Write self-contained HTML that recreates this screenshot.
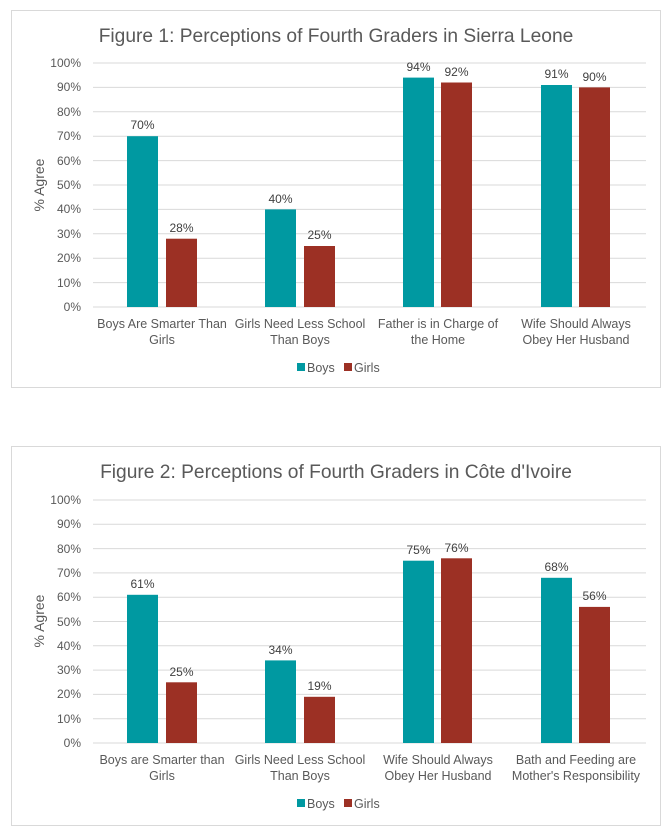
<!DOCTYPE html><html><head><style>body{margin:0;background:#fff}svg{display:block;font-family:"Liberation Sans",sans-serif}</style></head><body>
<svg width="672" height="836" xmlns="http://www.w3.org/2000/svg">
<g id="c1">
<rect x="11.5" y="10.5" width="649" height="377" fill="#fff" stroke="#d9d9d9"/>
<text x="336" y="42" font-size="19.2" fill="#595959" text-anchor="middle">Figure 1: Perceptions of Fourth Graders in Sierra Leone</text>
<g stroke="#d9d9d9" stroke-width="1">
<line x1="93" x2="646" y1="63" y2="63"/><line x1="93" x2="646" y1="87.4" y2="87.4"/><line x1="93" x2="646" y1="111.8" y2="111.8"/><line x1="93" x2="646" y1="136.2" y2="136.2"/><line x1="93" x2="646" y1="160.6" y2="160.6"/><line x1="93" x2="646" y1="185" y2="185"/><line x1="93" x2="646" y1="209.4" y2="209.4"/><line x1="93" x2="646" y1="233.8" y2="233.8"/><line x1="93" x2="646" y1="258.2" y2="258.2"/><line x1="93" x2="646" y1="282.6" y2="282.6"/><line x1="93" x2="646" y1="307" y2="307"/></g>
<g font-size="12" fill="#595959" text-anchor="end">
<text x="81" y="67">100%</text><text x="81" y="91">90%</text><text x="81" y="116">80%</text><text x="81" y="140">70%</text><text x="81" y="165">60%</text><text x="81" y="189">50%</text><text x="81" y="213">40%</text><text x="81" y="238">30%</text><text x="81" y="262">20%</text><text x="81" y="287">10%</text><text x="81" y="311">0%</text></g>
<text transform="translate(44,185) rotate(-90)" font-size="14" fill="#595959" text-anchor="middle">%  Agree</text>
<g fill="#0099a1"><rect x="127" y="136.2" width="31" height="170.8"/><rect x="265" y="209.4" width="31" height="97.6"/><rect x="403" y="77.6" width="31" height="229.4"/><rect x="541" y="85" width="31" height="222"/></g>
<g fill="#9c3024"><rect x="166" y="238.7" width="31" height="68.3"/><rect x="304" y="246" width="31" height="61"/><rect x="441" y="82.5" width="31" height="224.5"/><rect x="579" y="87.4" width="31" height="219.6"/></g>
<g font-size="12" fill="#404040" text-anchor="middle">
<text x="142.5" y="129">70%</text><text x="181.5" y="232">28%</text><text x="280.5" y="203">40%</text><text x="319.5" y="239">25%</text><text x="418.5" y="71">94%</text><text x="456.5" y="76">92%</text><text x="556.5" y="78">91%</text><text x="594.5" y="81">90%</text></g>
<g font-size="12.5" fill="#595959" text-anchor="middle">
<text x="162" y="328">Boys Are Smarter Than</text><text x="162" y="344">Girls</text>
<text x="300" y="328">Girls Need Less School</text><text x="300" y="344">Than Boys</text>
<text x="438" y="328">Father is in Charge of</text><text x="438" y="344">the Home</text>
<text x="576" y="328">Wife Should Always</text><text x="576" y="344">Obey Her Husband</text></g>
<rect x="297" y="363" width="8" height="8" fill="#0099a1"/><text x="307" y="372" font-size="12.5" fill="#595959">Boys</text>
<rect x="344" y="363" width="8" height="8" fill="#9c3024"/><text x="354" y="372" font-size="12.5" fill="#595959">Girls</text>
</g>
<g id="c2">
<rect x="11.5" y="446.5" width="649" height="379" fill="#fff" stroke="#d9d9d9"/>
<text x="336" y="478" font-size="19.2" fill="#595959" text-anchor="middle">Figure 2: Perceptions of Fourth Graders in Côte d'Ivoire</text>
<g stroke="#d9d9d9" stroke-width="1">
<line x1="93" x2="646" y1="500" y2="500"/><line x1="93" x2="646" y1="524.3" y2="524.3"/><line x1="93" x2="646" y1="548.6" y2="548.6"/><line x1="93" x2="646" y1="572.9" y2="572.9"/><line x1="93" x2="646" y1="597.2" y2="597.2"/><line x1="93" x2="646" y1="621.5" y2="621.5"/><line x1="93" x2="646" y1="645.8" y2="645.8"/><line x1="93" x2="646" y1="670.1" y2="670.1"/><line x1="93" x2="646" y1="694.4" y2="694.4"/><line x1="93" x2="646" y1="718.7" y2="718.7"/><line x1="93" x2="646" y1="743" y2="743"/></g>
<g font-size="12" fill="#595959" text-anchor="end">
<text x="81" y="504">100%</text><text x="81" y="528">90%</text><text x="81" y="553">80%</text><text x="81" y="577">70%</text><text x="81" y="601">60%</text><text x="81" y="626">50%</text><text x="81" y="650">40%</text><text x="81" y="674">30%</text><text x="81" y="698">20%</text><text x="81" y="723">10%</text><text x="81" y="747">0%</text></g>
<text transform="translate(44,621) rotate(-90)" font-size="14" fill="#595959" text-anchor="middle">%  Agree</text>
<g fill="#0099a1"><rect x="127" y="594.8" width="31" height="148.2"/><rect x="265" y="660.4" width="31" height="82.6"/><rect x="403" y="560.7" width="31" height="182.3"/><rect x="541" y="577.8" width="31" height="165.2"/></g>
<g fill="#9c3024"><rect x="166" y="682.3" width="31" height="60.7"/><rect x="304" y="696.8" width="31" height="46.2"/><rect x="441" y="558.3" width="31" height="184.7"/><rect x="579" y="606.9" width="31" height="136.1"/></g>
<g font-size="12" fill="#404040" text-anchor="middle">
<text x="142.5" y="588">61%</text><text x="181.5" y="676">25%</text><text x="280.5" y="654">34%</text><text x="319.5" y="690">19%</text><text x="418.5" y="554">75%</text><text x="456.5" y="552">76%</text><text x="556.5" y="571">68%</text><text x="594.5" y="600">56%</text></g>
<g font-size="12.5" fill="#595959" text-anchor="middle">
<text x="162" y="764">Boys are Smarter than</text><text x="162" y="780">Girls</text>
<text x="300" y="764">Girls Need Less School</text><text x="300" y="780">Than Boys</text>
<text x="438" y="764">Wife Should Always</text><text x="438" y="780">Obey Her Husband</text>
<text x="576" y="764">Bath and Feeding are</text><text x="576" y="780">Mother's Responsibility</text></g>
<rect x="297" y="799" width="8" height="8" fill="#0099a1"/><text x="307" y="808" font-size="12.5" fill="#595959">Boys</text>
<rect x="344" y="799" width="8" height="8" fill="#9c3024"/><text x="354" y="808" font-size="12.5" fill="#595959">Girls</text>
</g>
</svg></body></html>
